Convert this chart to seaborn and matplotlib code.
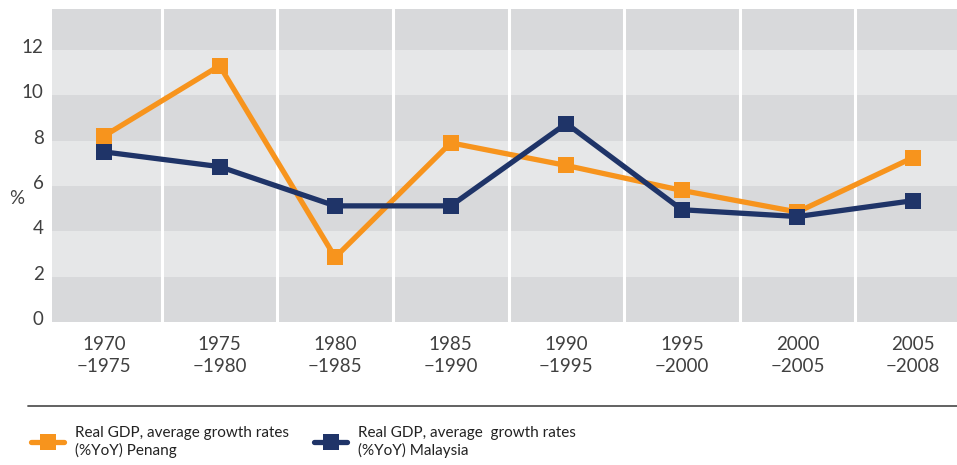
import pandas as pd
import numpy as np
import matplotlib
matplotlib.use('Agg')
import matplotlib.pyplot as plt
from matplotlib.lines import Line2D
import matplotlib.transforms as mtransforms
import seaborn as sns

# --- DATA ---
periods = ["1970\n\u22121975", "1975\n\u22121980", "1980\n\u22121985", "1985\n\u22121990",
           "1990\n\u22121995", "1995\n\u22122000", "2000\n\u22122005", "2005\n\u22122008"]
penang = [8.2, 11.3, 2.85, 7.9, 6.9, 5.8, 4.85, 7.25]
malaysia = [7.5, 6.85, 5.12, 5.12, 8.75, 4.95, 4.65, 5.35]
series_names = ["Real GDP, average growth rates\n(%YoY) Penang",
                "Real GDP, average  growth rates\n(%YoY) Malaysia"]
colors = ["#F7941D", "#1F3468"]
yticks = [0, 2, 4, 6, 8, 10, 12]

df = pd.DataFrame({
    "x": list(range(len(periods))) * 2,
    "value": penang + malaysia,
    "series": [series_names[0]] * len(periods) + [series_names[1]] * len(periods),
})

sns.set_style("white")
plt.rcParams['font.family'] = ['Lato', 'DejaVu Sans']
txt = "#404040"

fig = plt.figure(figsize=(9.57, 4.65), dpi=100)
ax = fig.add_axes([52 / 957, 1 - 322 / 465, 1 - 52 / 957, (322 - 9) / 465])

# banded background
for i, y0 in enumerate(np.arange(0, 14, 2)):
    ax.axhspan(y0, y0 + 2, color="#D8D9DB" if i % 2 == 0 else "#E6E7E8", lw=0, zorder=0)
for xv in np.arange(0.5, len(periods), 1):
    ax.axvline(xv, color="white", lw=2.2, zorder=1)

sns.lineplot(data=df, x="x", y="value", hue="series", palette=colors,
             style="series", markers=["s", "s"], dashes=False,
             lw=3.8, markersize=11, markeredgewidth=0, ax=ax, zorder=3, legend=False)

ax.set_xlim(-0.45, 7.38)
ax.set_ylim(0, 13.8)
ax.set_xticks(range(len(periods)))
ax.set_xticklabels(periods, fontsize=13.5, color=txt, linespacing=1.35)
ax.set_yticks(yticks)
ax.set_yticklabels([str(v) for v in yticks], fontsize=13.5, color=txt)
ax.tick_params(length=0, pad=6)
ax.tick_params(axis="x", pad=10)
# y labels sit a little above the band edges
shift = mtransforms.ScaledTranslation(0, 4 / 100, fig.dpi_scale_trans)
for lbl in ax.get_yticklabels():
    lbl.set_transform(lbl.get_transform() + shift)
ax.set_xlabel("")
ax.set_ylabel("%", fontsize=13.5, color=txt, rotation=0, va="center", ha="center")
ax.yaxis.set_label_coords(-0.039, 0.393)
for s in ax.spines.values():
    s.set_visible(False)

# separator line + legends
fig.add_artist(Line2D([28 / 957, 1], [1 - 406 / 465] * 2, color="#555555", lw=1.3))
for i, xa in enumerate([17 / 957, 300 / 957]):
    h = Line2D([], [], color=colors[i], lw=3.8, marker="s", markersize=11, markeredgewidth=0)
    leg = fig.legend([h], [series_names[i]], loc="center left",
                     bbox_to_anchor=(xa, 1 - 442 / 465), frameon=False,
                     fontsize=11, handlelength=2.2, handletextpad=0.7)
    for t in leg.get_texts():
        t.set_color("#222222")
        t.set_linespacing(1.3)

fig.savefig("out.png", dpi=100)
